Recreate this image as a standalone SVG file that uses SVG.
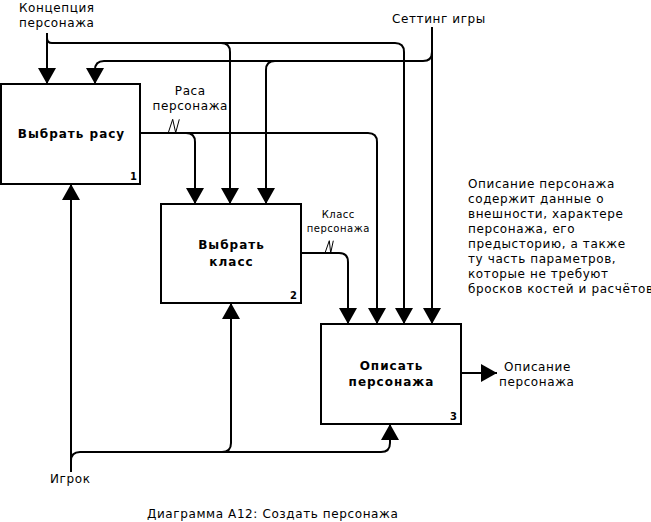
<svg xmlns="http://www.w3.org/2000/svg" width="651" height="522" viewBox="0 0 651 522">
<defs>
<marker id="arr" markerUnits="userSpaceOnUse" viewBox="0 0 16 18" refX="16" refY="9" markerWidth="16" markerHeight="18" orient="auto">
<path d="M0,0 L16,9 L0,18 z" fill="#000"/>
</marker>
<style>
.box{fill:#fff;stroke:#000;stroke-width:2}
.ln{fill:none;stroke:#000;stroke-width:2}
.sq{fill:none;stroke:#000;stroke-width:1}
.t{font-family:"DejaVu Sans",sans-serif;font-size:12px;letter-spacing:0.6px;fill:#000}
.s{font-family:"DejaVu Sans",sans-serif;font-size:10px;letter-spacing:0.5px;fill:#000}
.b{font-family:"DejaVu Sans",sans-serif;font-size:12px;font-weight:bold;letter-spacing:1px;fill:#000;text-anchor:middle}
.n{font-family:"DejaVu Sans",sans-serif;font-size:10px;font-weight:bold;fill:#000;text-anchor:end}
</style>
</defs>
<rect width="651" height="522" fill="#fff"/>
<g id="connectors">
<path class="ln" d="M47,33 V84" marker-end="url(#arr)"/>
<path class="ln" d="M47,38 Q47,43 52,43 H395 Q404,43 404,52 V324" marker-end="url(#arr)"/>
<path class="ln" d="M221,43 Q230,43 230,52 V204" marker-end="url(#arr)"/>
<path class="ln" d="M432,27 V324" marker-end="url(#arr)"/>
<path class="ln" d="M432,52 Q432,61 423,61 H104 Q95,61 95,70 V84" marker-end="url(#arr)"/>
<path class="ln" d="M275,61 Q266,61 266,70 V204" marker-end="url(#arr)"/>
<path class="ln" d="M140,133 H186 Q195,133 195,142 V204" marker-end="url(#arr)"/>
<path class="ln" d="M186,133 H368 Q377,133 377,142 V324" marker-end="url(#arr)"/>
<path class="ln" d="M301,253 H339 Q348,253 348,262 V324" marker-end="url(#arr)"/>
<path class="ln" d="M461,373 H497" marker-end="url(#arr)"/>
<path class="ln" d="M71,472 V184" marker-end="url(#arr)"/>
<path class="ln" d="M71,461 Q71,452 80,452 H222 Q231,452 231,443 V303" marker-end="url(#arr)"/>
<path class="ln" d="M222,452 H381 Q390,452 390,443 V424" marker-end="url(#arr)"/>
<path class="sq" d="M168.3,132.7 L172.7,119.3 L175.7,132.7 L179.3,119.3"/>
<path class="sq" d="M325,253 L329.3,240.7 L330.7,253 L333.3,240.7"/>
</g>
<g id="node1">
<rect class="box" x="1" y="84" width="139" height="100"/>
<text class="b" x="71.5" y="138">Выбрать расу</text>
<text class="n" x="137" y="180">1</text>
</g>
<g id="node2">
<rect class="box" x="161" y="204" width="140" height="99"/>
<text class="b" x="231.5" y="249">Выбрать</text>
<text class="b" x="231.5" y="266">класс</text>
<text class="n" x="297" y="299">2</text>
</g>
<g id="node3">
<rect class="box" x="321" y="324" width="140" height="100"/>
<text class="b" x="391.5" y="370">Описать</text>
<text class="b" x="391.5" y="386">персонажа</text>
<text class="n" x="457" y="420">3</text>
</g>
<g id="labels">
<text class="t" x="19" y="12">Концепция</text>
<text class="t" x="19" y="27">персонажа</text>
<text class="t" x="392" y="23">Сеттинг игры</text>
<text class="t" x="190.3" y="95" text-anchor="middle">Раса</text>
<text class="t" x="190.3" y="110" text-anchor="middle">персонажа</text>
<text class="s" x="338.3" y="218" text-anchor="middle">Класс</text>
<text class="s" x="338.3" y="232" text-anchor="middle">персонажа</text>
<text class="t" x="504" y="371">Описание</text>
<text class="t" x="499" y="386">персонажа</text>
<text class="t" x="50" y="483">Игрок</text>
<text class="t" x="147" y="518">Диаграмма A12: Создать персонажа</text>
</g>
<g id="note">
<text class="t" x="468" y="188">Описание персонажа</text>
<text class="t" x="468" y="203">содержит данные о</text>
<text class="t" x="468" y="218">внешности, характере</text>
<text class="t" x="468" y="233">персонажа, его</text>
<text class="t" x="468" y="248">предысторию, а также</text>
<text class="t" x="468" y="263">ту часть параметров,</text>
<text class="t" x="468" y="278">которые не требуют</text>
<text class="t" x="468" y="293">бросков костей и расчётов</text>
</g>
</svg>
